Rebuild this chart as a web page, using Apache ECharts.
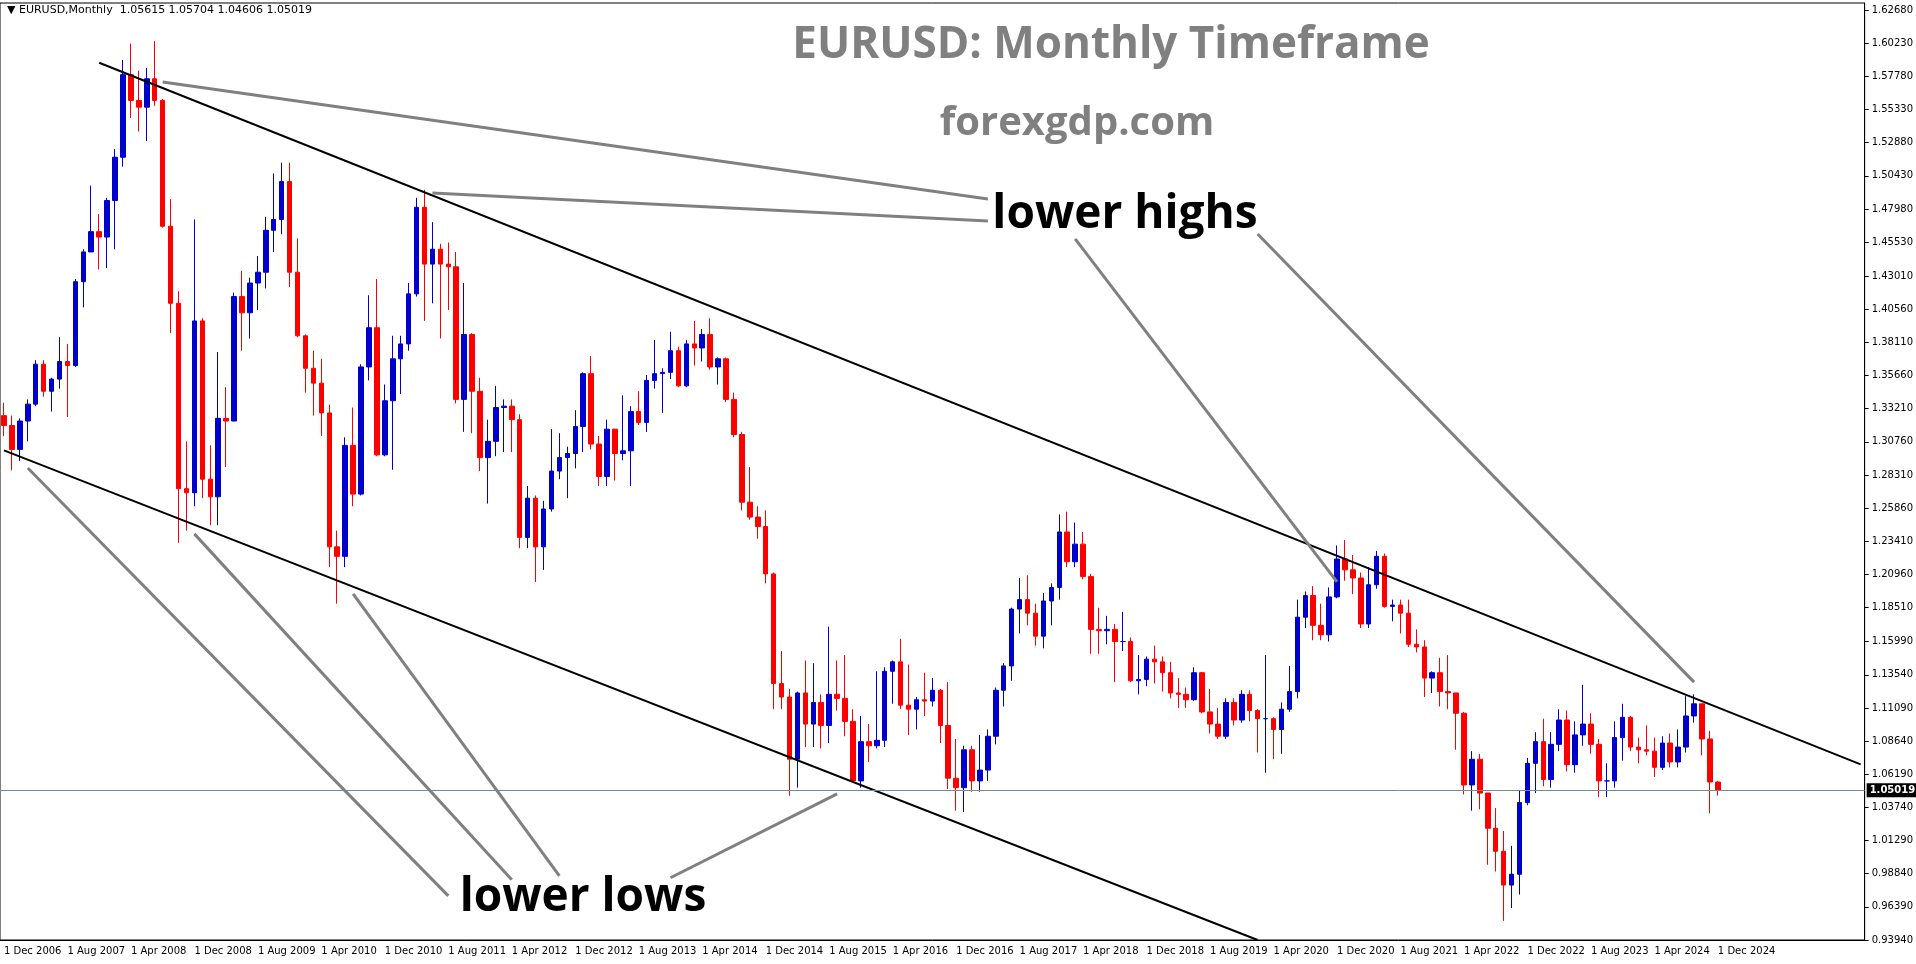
<!DOCTYPE html>
<html>
<head>
<meta charset="utf-8">
<script src="https://cdn.jsdelivr.net/npm/echarts@6/dist/echarts.min.js"></script>
<style>
  html, body { margin: 0; padding: 0; background: #fff; }
  #chart { width: 1916px; height: 964px; }
</style>
</head>
<body>
<div id="chart"></div>
<script>
// monthly candles, 1 Dec 2006 .. 1 Dec 2024
var opens = [1.3270,
  1.3197,1.3020,1.3230,1.3355,1.3650,1.3450,1.3540,1.3670,1.3640,1.4260,1.4480,1.4630,
  1.4590,1.4860,1.5180,1.5790,1.5600,1.5550,1.5760,1.5600,1.4670,1.4100,1.2730,1.2700,
  1.3970,1.2800,1.2670,1.3250,1.3230,1.4150,1.4030,1.4250,1.4330,1.4640,1.4720,1.5000,
  1.4330,1.3860,1.3620,1.3510,1.3290,1.2300,1.2230,1.3050,1.2690,1.3630,1.3920,1.2980,
  1.3380,1.3690,1.3800,1.4170,1.4810,1.4390,1.4500,1.4390,1.4370,1.3390,1.3870,1.3450,
  1.2960,1.3080,1.3330,1.3340,1.3240,1.2370,1.2660,1.2300,1.2580,1.2860,1.2960,1.2990,
  1.3190,1.3580,1.3060,1.2820,1.3170,1.2990,1.3010,1.3300,1.3220,1.3530,1.3580,1.3590,
  1.3750,1.3490,1.3800,1.3770,1.3870,1.3630,1.3690,1.3390,1.3130,1.2630,1.2520,1.2450,
  1.2100,1.1290,1.1190,1.0730,1.1220,1.0990,1.1150,1.0980,1.1210,1.1180,1.1010,1.0570,
  1.0860,1.0830,1.0870,1.1380,1.1450,1.1130,1.1100,1.1170,1.1160,1.1240,1.0980,1.0590,
  1.0520,1.0800,1.0570,1.0650,1.0900,1.1240,1.1420,1.1840,1.1910,1.1810,1.1640,1.1900,
  1.2000,1.2410,1.2190,1.2320,1.2080,1.1690,1.1680,1.1690,1.1600,1.1600,1.1310,1.1320,
  1.1470,1.1450,1.1370,1.1220,1.1210,1.1170,1.1370,1.1080,1.0990,1.0900,1.1150,1.1020,
  1.1210,1.1090,1.1030,1.1030,1.0950,1.1100,1.1230,1.1780,1.1940,1.1720,1.1650,1.1930,
  1.2210,1.2130,1.2070,1.1730,1.2020,1.2230,1.1860,1.1870,1.1810,1.1580,1.1560,1.1330,
  1.1370,1.1230,1.1220,1.1070,1.0540,1.0730,1.0480,1.0220,1.0050,0.9800,0.9880,1.0410,
  1.0700,1.0860,1.0580,1.0840,1.1020,1.0690,1.0910,1.0990,1.0840,1.0570,1.0570,1.0890,
  1.1040,1.0820,1.0800,1.0790,1.0670,1.0850,1.0710,1.0820,1.1050,1.1140,1.0880,1.05615];
var closes = [1.3197,
  1.3020,1.3230,1.3355,1.3650,1.3450,1.3540,1.3670,1.3640,1.4260,1.4480,1.4630,1.4590,
  1.4860,1.5180,1.5790,1.5600,1.5550,1.5760,1.5600,1.4670,1.4100,1.2730,1.2700,1.3970,
  1.2800,1.2670,1.3250,1.3230,1.4150,1.4030,1.4250,1.4330,1.4640,1.4720,1.5000,1.4330,
  1.3860,1.3620,1.3510,1.3290,1.2300,1.2230,1.3050,1.2690,1.3630,1.3920,1.2980,1.3380,
  1.3690,1.3800,1.4170,1.4810,1.4390,1.4500,1.4390,1.4370,1.3390,1.3870,1.3450,1.2960,
  1.3080,1.3330,1.3340,1.3240,1.2370,1.2660,1.2300,1.2580,1.2860,1.2960,1.2990,1.3190,
  1.3580,1.3060,1.2820,1.3170,1.2990,1.3010,1.3300,1.3220,1.3530,1.3580,1.3590,1.3750,
  1.3490,1.3800,1.3770,1.3870,1.3630,1.3690,1.3390,1.3130,1.2630,1.2520,1.2450,1.2100,
  1.1290,1.1190,1.0730,1.1220,1.0990,1.1150,1.0980,1.1210,1.1180,1.1010,1.0570,1.0860,
  1.0830,1.0870,1.1380,1.1450,1.1130,1.1100,1.1170,1.1160,1.1240,1.0980,1.0590,1.0520,
  1.0800,1.0570,1.0650,1.0900,1.1240,1.1420,1.1840,1.1910,1.1810,1.1640,1.1900,1.2000,
  1.2410,1.2190,1.2320,1.2080,1.1690,1.1680,1.1690,1.1600,1.1600,1.1310,1.1320,1.1470,
  1.1450,1.1370,1.1220,1.1210,1.1170,1.1370,1.1080,1.0990,1.0900,1.1150,1.1020,1.1210,
  1.1090,1.1030,1.1030,1.0950,1.1100,1.1230,1.1780,1.1940,1.1720,1.1650,1.1930,1.2210,
  1.2130,1.2070,1.1730,1.2020,1.2230,1.1860,1.1870,1.1810,1.1580,1.1560,1.1330,1.1370,
  1.1230,1.1220,1.1070,1.0540,1.0730,1.0480,1.0220,1.0050,0.9800,0.9880,1.0410,1.0700,
  1.0860,1.0580,1.0840,1.1020,1.0690,1.0910,1.0990,1.0840,1.0570,1.0570,1.0890,1.1040,
  1.0820,1.0800,1.0790,1.0670,1.0850,1.0710,1.0820,1.1050,1.1140,1.0880,1.0562,1.05019];
var highs = [1.3366,
  1.3270,1.3250,1.3390,1.3680,1.3680,1.3550,1.3850,1.3800,1.4280,1.4500,1.4970,1.4760,
  1.4880,1.5240,1.5900,1.6020,1.5820,1.5840,1.6038,1.5610,1.4870,1.4190,1.3080,1.4720,
  1.3990,1.3050,1.3740,1.3480,1.4180,1.4340,1.4290,1.4450,1.4740,1.5060,1.5140,1.5140,
  1.4580,1.3870,1.3750,1.3690,1.3350,1.2420,1.3110,1.3330,1.3650,1.4160,1.4280,1.3500,
  1.3860,1.3860,1.4250,1.4880,1.4940,1.4700,1.4540,1.4550,1.4480,1.4250,1.3880,1.3550,
  1.3240,1.3490,1.3390,1.3390,1.3280,1.2750,1.2680,1.2640,1.3170,1.3140,1.3040,1.3310,
  1.3590,1.3710,1.3120,1.3240,1.3110,1.3420,1.3340,1.3450,1.3570,1.3830,1.3620,1.3890,
  1.3780,1.3830,1.3970,1.3910,1.3990,1.3700,1.3700,1.3440,1.3150,1.2890,1.2600,1.2570,
  1.2110,1.1530,1.1250,1.1230,1.1460,1.1440,1.1210,1.1710,1.1460,1.1500,1.1100,1.1050,
  1.0990,1.1380,1.1410,1.1460,1.1620,1.1430,1.1190,1.1370,1.1330,1.1250,1.1300,1.0880,
  1.0830,1.0830,1.0910,1.0950,1.1260,1.1440,1.1850,1.2070,1.2090,1.1880,1.1960,1.2030,
  1.2540,1.2560,1.2480,1.2410,1.2100,1.1850,1.1790,1.1730,1.1820,1.1630,1.1500,1.1490,
  1.1570,1.1490,1.1450,1.1330,1.1260,1.1410,1.1290,1.1250,1.1110,1.1180,1.1180,1.1240,
  1.1240,1.1100,1.1500,1.1040,1.1150,1.1420,1.1910,1.1970,1.2010,1.1880,1.2000,1.2310,
  1.2350,1.2240,1.2110,1.2150,1.2270,1.2250,1.1910,1.1910,1.1910,1.1690,1.1610,1.1380,
  1.1480,1.1500,1.1180,1.1080,1.0790,1.0770,1.0480,1.0370,1.0200,1.0090,1.0500,1.0740,
  1.0930,1.1030,1.0930,1.1100,1.1090,1.1010,1.1280,1.1070,1.0880,1.0700,1.1010,1.1140,
  1.1050,1.0890,1.0980,1.0890,1.0900,1.0920,1.0950,1.1200,1.1210,1.1140,1.0940,1.05704];
var lows = [1.3118,
  1.2866,1.2935,1.3080,1.3340,1.3410,1.3300,1.3470,1.3260,1.3630,1.4070,1.4480,1.4350,
  1.4360,1.4500,1.5110,1.5470,1.5370,1.5300,1.5560,1.4660,1.3880,1.2330,1.2420,1.2600,
  1.2660,1.2460,1.2460,1.2890,1.3230,1.3750,1.3840,1.4050,1.4210,1.4480,1.4610,1.4220,
  1.3850,1.3440,1.3270,1.3120,1.2150,1.1880,1.2150,1.2600,1.2680,1.3530,1.2970,1.2970,
  1.2870,1.3430,1.3750,1.4150,1.3970,1.4100,1.3840,1.4050,1.3360,1.3150,1.3140,1.2860,
  1.2620,1.2970,1.3000,1.3000,1.2290,1.2290,1.2040,1.2130,1.2560,1.2800,1.2660,1.2880,
  1.3000,1.3020,1.2750,1.2750,1.2790,1.2940,1.2750,1.3200,1.3150,1.3470,1.3290,1.3540,
  1.3480,1.3480,1.3640,1.3670,1.3610,1.3500,1.3370,1.3110,1.2570,1.2500,1.2360,1.2030,
  1.1100,1.1100,1.0460,1.0520,1.0820,1.0820,1.0810,1.0850,1.1090,1.0900,1.0560,1.0520,
  1.0710,1.0810,1.0820,1.1140,1.1100,1.0910,1.0950,1.1050,1.1120,1.0850,1.0510,1.0350,
  1.0340,1.0490,1.0490,1.0570,1.0840,1.1120,1.1310,1.1660,1.1720,1.1570,1.1550,1.1720,
  1.1910,1.2150,1.2150,1.2060,1.1510,1.1510,1.1580,1.1300,1.1530,1.1300,1.1210,1.1270,
  1.1290,1.1230,1.1180,1.1110,1.1110,1.1160,1.1070,1.0920,1.0880,1.0880,1.0980,1.1000,
  1.1010,1.0780,1.0630,1.0730,1.0770,1.1080,1.1180,1.1700,1.1610,1.1610,1.1600,1.1920,
  1.2050,1.1950,1.1700,1.1700,1.1990,1.1850,1.1750,1.1660,1.1560,1.1520,1.1190,1.1220,
  1.1120,1.1100,1.0800,1.0470,1.0350,1.0360,0.9950,0.9900,0.9535,0.9630,0.9730,1.0390,
  1.0480,1.0530,1.0520,1.0790,1.0640,1.0630,1.0830,1.0770,1.0450,1.0450,1.0520,1.0720,
  1.0790,1.0700,1.0760,1.0600,1.0650,1.0670,1.0670,1.0780,1.1000,1.0760,1.0330,1.04606];

// right price scale labels as shown by the terminal
var priceTicks = [1.62680,1.60230,1.57780,1.55330,1.52880,1.50430,1.47980,1.45530,1.43010,
  1.40560,1.38110,1.35660,1.33210,1.30760,1.28310,1.25860,1.23410,1.20960,1.18510,1.15990,
  1.13540,1.11090,1.08640,1.06190,1.03740,1.01290,0.98840,0.96390,0.93940];
var lastPrice = 1.05019;
var futureMonths = 18;

var monthNames = ['Jan','Feb','Mar','Apr','May','Jun','Jul','Aug','Sep','Oct','Nov','Dec'];
var months = [];
for (var i = 0; i < opens.length + futureMonths; i++) {
  var m = (11 + i) % 12, y = 2006 + Math.floor((11 + i) / 12);
  months.push('1 ' + monthNames[m] + ' ' + y);
}

var candles = [];
for (var i = 0; i < opens.length; i++) {
  candles.push([opens[i], closes[i], lows[i], highs[i]]);
}

// trend lines: [monthIndex, price] pairs
var channelLines = [
  [[12, 1.5878], [234, 1.0692]],
  [[0, 1.3013], [157.6, 0.9394]]
];
var pointerLines = [
  [[19.9, 1.5736], [123.5, 1.4871]],
  [[54.3, 1.4916], [123.5, 1.4709]],
  [[134.6, 1.4576], [168.0, 1.2041]],
  [[157.6, 1.4613], [212.5, 1.1300]],
  [[2.97, 1.2883], [56.0, 0.9720]],
  [[24.4, 1.2396], [64.2, 0.9839]],
  [[43.9, 1.1952], [69.6, 0.9868]],
  [[105.3, 1.0474], [83.6, 0.9854]]
];

function toMark(lines, color, width) {
  return lines.map(function (l) {
    return [{ coord: l[0], lineStyle: { color: color, width: width, type: 'solid' } }, { coord: l[1] }];
  });
}

// only label the months that have candles
function shownTick(idx) {
  return idx % 8 === 0 && idx < opens.length;
}

var chart = echarts.init(document.getElementById('chart'));
chart.setOption({
  animation: false,
  backgroundColor: '#fff',
  textStyle: { fontFamily: 'DejaVu Sans' },
  grid: { left: 0, right: 48, top: 3, bottom: 24, show: true, borderColor: '#000', borderWidth: 1 },
  graphic: [
    { type: 'text', left: 7, top: 5, style: { text: '\u25BC EURUSD,Monthly  1.05615 1.05704 1.04606 1.05019', fill: '#000', font: '11px "DejaVu Sans"' } },
    { type: 'text', x: 1111, y: 45, style: { text: 'EURUSD: Monthly Timeframe', fill: '#808080', font: 'bold 44px "Open Sans"', align: 'center', verticalAlign: 'middle' } },
    { type: 'text', x: 1077, y: 124, style: { text: 'forexgdp.com', fill: '#808080', font: 'bold 40px "Open Sans"', align: 'center', verticalAlign: 'middle' } },
    { type: 'text', x: 1125, y: 215, style: { text: 'lower highs', fill: '#000', font: 'bold 46px "Open Sans"', align: 'center', verticalAlign: 'middle' } },
    { type: 'text', x: 583, y: 898, style: { text: 'lower lows', fill: '#000', font: 'bold 46px "Open Sans"', align: 'center', verticalAlign: 'middle' } }
  ],
  xAxis: {
    type: 'category',
    data: months,
    boundaryGap: true,
    axisLine: { lineStyle: { color: '#000' } },
    axisTick: { interval: function (idx) { return shownTick(idx); }, alignWithLabel: true, lineStyle: { color: '#000' }, length: 4 },
    axisLabel: { interval: function (idx) { return shownTick(idx); }, color: '#000', fontSize: 10, align: 'left', margin: 6 },
    splitLine: { show: false }
  },
  yAxis: {
    type: 'value',
    position: 'right',
    min: 0.9394,
    max: 1.6320,
    axisLine: { show: true, lineStyle: { color: '#000' } },
    axisTick: { show: true, customValues: priceTicks, length: 4, lineStyle: { color: '#000' } },
    axisLabel: { customValues: priceTicks, color: '#000', fontSize: 10, margin: 7,
      formatter: function (v) { return v.toFixed(5); } },
    splitLine: { show: false }
  },
  series: [{
    type: 'candlestick',
    data: candles,
    barWidth: 5,
    itemStyle: { color: '#0000cd', color0: '#ff0000', borderColor: '#0000cd', borderColor0: '#ff0000', borderWidth: 1 },
    markLine: {
      silent: true,
      symbol: ['none', 'none'],
      label: { show: false },
      data: toMark(channelLines, '#000', 2).concat(toMark(pointerLines, '#808080', 3)).concat([
        { yAxis: lastPrice, lineStyle: { color: '#778899', width: 1, type: 'solid' },
          label: { show: true, position: 'end', distance: 2, formatter: '1.05019', color: '#fff',
            backgroundColor: '#000', padding: [2, 3], fontSize: 10, fontWeight: 'bold' } }
      ])
    }
  }]
});
</script>
</body>
</html>
